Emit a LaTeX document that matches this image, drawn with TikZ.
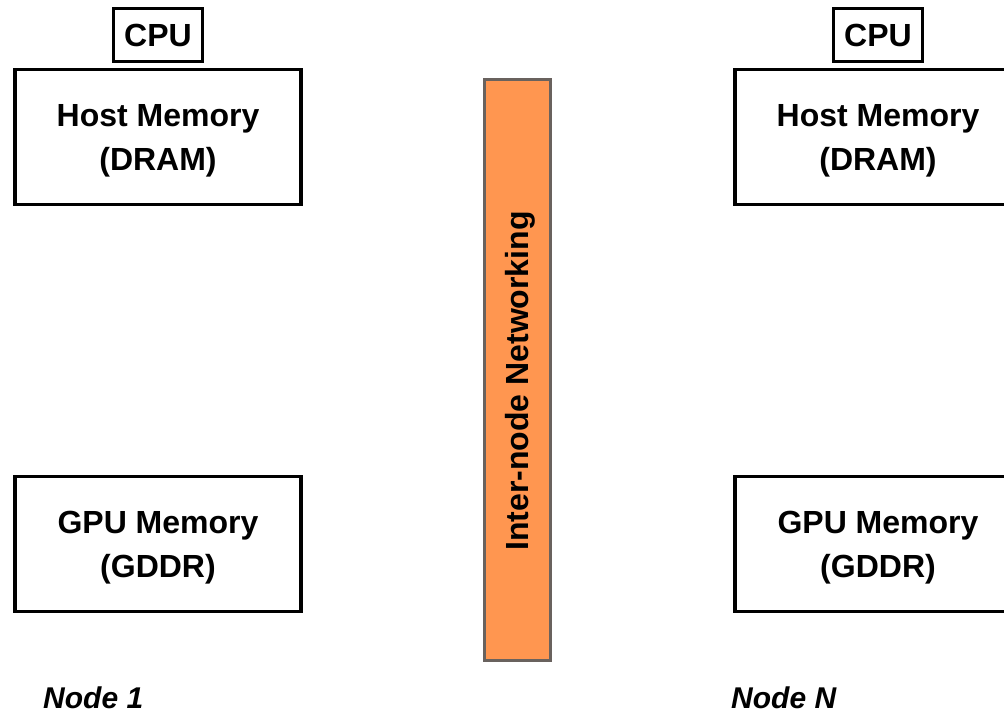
\documentclass[tikz,border=0pt]{standalone}
\usepackage{fontspec}
\setmainfont{Liberation Sans}
\definecolor{netorange}{RGB}{255,150,80}
\definecolor{netborder}{RGB}{105,98,94}
\begin{document}
\begin{tikzpicture}[x=1pt,y=-1pt,
  label/.style={font=\fontsize{32}{44}\selectfont\bfseries, align=center, inner sep=0pt},
  membox/.style={draw=black, line width=3.8pt, minimum width=286.5pt, minimum height=135pt, inner sep=0pt},
  cpubox/.style={label, draw=black, line width=3.2pt, minimum width=89pt, minimum height=53pt},
  netbar/.style={draw=netborder, fill=netorange, line width=3pt, minimum width=66pt, minimum height=581pt, inner sep=0pt},
  nodetag/.style={font=\fontsize{30}{36}\selectfont\bfseries\itshape, inner sep=0pt, anchor=base west}]
\useasboundingbox (0,0) rectangle (1004,715);
\clip (0,0) rectangle (1004,715);

% Node 1
\node[cpubox] (cpuA) at (158,35) {CPU};
\node[membox] (hostA) at (158,137) {};
\node[label] (hostAtext) at ([yshift=-4pt]hostA.center) {Host Memory\\(DRAM)};
\node[membox] (gpuA) at (158,544) {};
\node[label] (gpuAtext) at ([yshift=-4pt]gpuA.center) {GPU Memory\\(GDDR)};
\node[nodetag] (tagA) at (43,708) {Node 1};

% Inter-node networking bar
\node[netbar] (net) at (517.5,370) {};
\node[label, rotate=90, anchor=base] (netlabel) at (528,381) {Inter-node Networking};

% Node N
\node[cpubox] (cpuN) at (878,35) {CPU};
\node[membox] (hostN) at (878,137) {};
\node[label] (hostNtext) at ([yshift=-4pt]hostN.center) {Host Memory\\(DRAM)};
\node[membox] (gpuN) at (878,544) {};
\node[label] (gpuNtext) at ([yshift=-4pt]gpuN.center) {GPU Memory\\(GDDR)};
\node[nodetag] (tagN) at (731,708) {Node N};
\end{tikzpicture}
\end{document}
